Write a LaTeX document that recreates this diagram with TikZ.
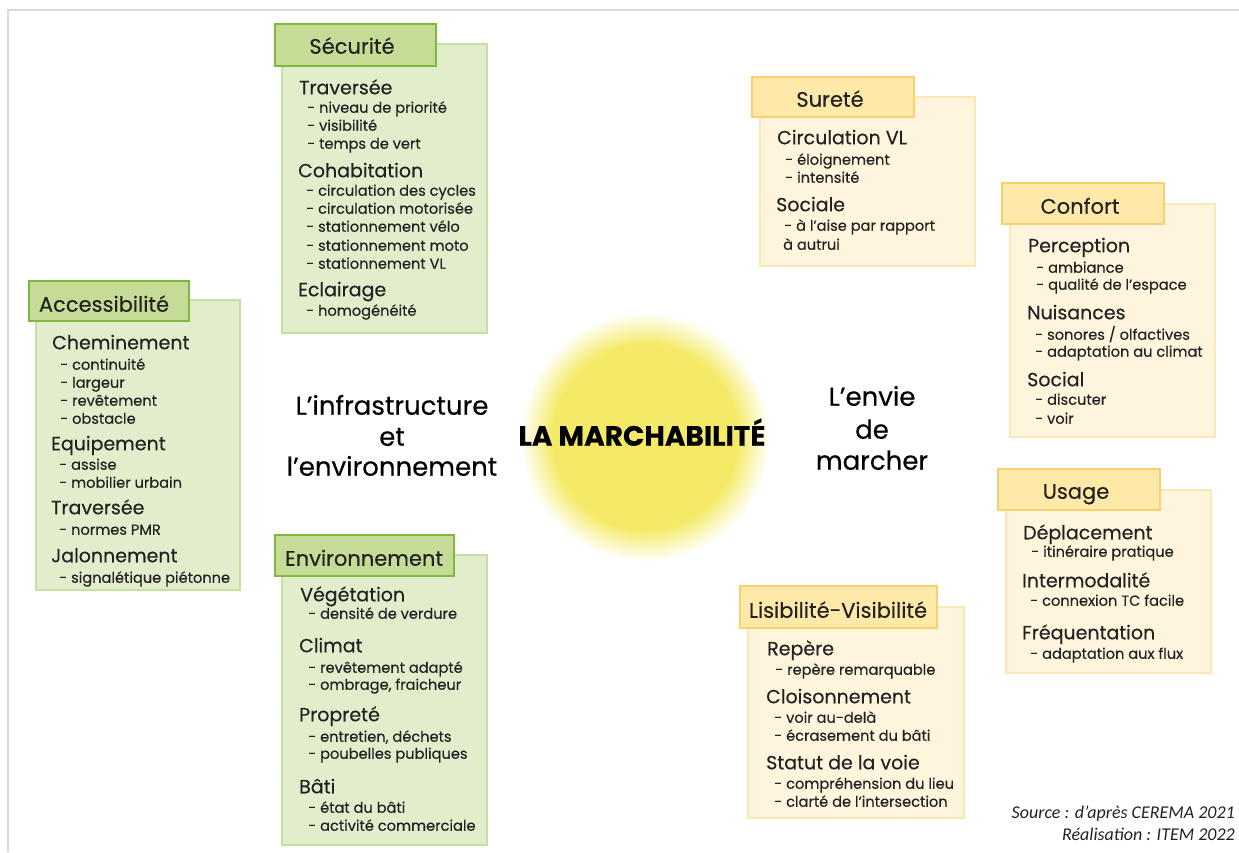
\documentclass[tikz,border=0pt]{standalone}
\usepackage{fontspec}
\setmainfont{Poppins}[FakeBold=0.35]
\newfontfamily\srcfont{Carlito}
\definecolor{txt}{HTML}{222222}
\definecolor{gHead}{HTML}{C5DC96}
\definecolor{gHeadLine}{HTML}{7DB93F}
\definecolor{gBody}{HTML}{E2EDCC}
\definecolor{gBodyLine}{HTML}{C6E0A2}
\definecolor{oHead}{HTML}{FEE9A8}
\definecolor{oHeadLine}{HTML}{F8D06E}
\definecolor{oBody}{HTML}{FFF5DC}
\definecolor{oBodyLine}{HTML}{FDE7B4}
\definecolor{glowc}{RGB}{244,234,104}
\definecolor{frame}{HTML}{DADADA}
\pgfdeclareradialshading{glow}{\pgfpoint{0bp}{0bp}}{color(0bp)=(glowc); color(18.5bp)=(glowc); color(25bp)=(white); color(50bp)=(white)}
\tikzset{
  gbody/.style={fill=gBody, draw=gBodyLine, line width=2pt},
  ghead/.style={fill=gHead, draw=gHeadLine, line width=2pt},
  obody/.style={fill=oBody, draw=oBodyLine, line width=2pt},
  ohead/.style={fill=oHead, draw=oHeadLine, line width=2pt},
  title/.style={inner sep=0pt, anchor=mid, yshift=-4pt, text=txt, font=\fontsize{21}{23}\selectfont},
  hd/.style={inner sep=0pt, anchor=mid west, yshift=-3.5pt, text=txt, font=\fontsize{19}{21}\selectfont},
  it/.style={inner sep=0pt, anchor=mid west, yshift=-3pt, text=txt, font=\fontsize{14.6}{16}\selectfont},
  big/.style={inner sep=0pt, anchor=mid, yshift=-6pt, text=black, font=\fontsize{26}{28}\selectfont},
  src/.style={inner sep=0pt, anchor=mid east, yshift=-5pt, text=txt, font=\srcfont\itshape\fontsize{18}{20}\selectfont}
}
\begin{document}
\begin{tikzpicture}[x=1pt,y=-1pt]
\useasboundingbox (0,0) rectangle (1239,852);
% frame
\draw[frame, line width=2pt] (8,852) -- (8,10) -- (1239,10);
% glow
\shade[shading=glow] (645,437) circle (125);
\node[inner sep=0pt, anchor=mid, yshift=-6pt, text=black, font=\bfseries\fontsize{28}{30}\selectfont] (center) at (642,437) {LA MARCHABILITÉ};
\node[big] (inf1) at (392,406) {L’infrastructure};
\node[big] (inf2) at (392,437) {et};
\node[big] (inf3) at (392,467) {l’environnement};
\node[big] (env1) at (872,397) {L’envie};
\node[big] (env2) at (872,430) {de};
\node[big] (env3) at (872,461) {marcher};

% ---------- Sécurité
\draw[gbody] (282,44) rectangle (487,333);
\draw[ghead] (275,24) rectangle (436,66);
\node[title] (secT) at (352,47) {Sécurité};
\node[hd] (sec1) at (299,88) {Traversée};
\node[it] (sec2) at (307,107) {- niveau de priorité};
\node[it] (sec3) at (307,125) {- visibilité};
\node[it] (sec4) at (307,143) {- temps de vert};
\node[hd] (sec5) at (298,171) {Cohabitation};
\node[it] (sec6) at (306,190) {- circulation des cycles};
\node[it] (sec7) at (306,208) {- circulation motorisée};
\node[it] (sec8) at (306,226) {- stationnement vélo};
\node[it] (sec9) at (306,245) {- stationnement moto};
\node[it] (sec10) at (306,263) {- stationnement VL};
\node[hd] (sec11) at (298,290) {Eclairage};
\node[it] (sec12) at (306,310) {- homogénéité};

% ---------- Accessibilité
\draw[gbody] (36,300) rectangle (240,590);
\draw[ghead] (29,281) rectangle (189,321);
\node[title] (accT) at (104,305) {Accessibilité};
\node[hd] (acc1) at (52,343) {Cheminement};
\node[it] (acc2) at (60,364) {- continuité};
\node[it] (acc3) at (60,382) {- largeur};
\node[it] (acc4) at (60,400) {- revêtement};
\node[it] (acc5) at (60,418) {- obstacle};
\node[hd] (acc6) at (51,444) {Equipement};
\node[it] (acc7) at (59,464) {- assise};
\node[it] (acc8) at (59,482) {- mobilier urbain};
\node[hd] (acc9) at (51,508) {Traversée};
\node[it] (acc10) at (59,529) {- normes PMR};
\node[hd] (acc11) at (51,556) {Jalonnement};
\node[it] (acc12) at (59,577) {- signalétique piétonne};

% ---------- Environnement
\draw[gbody] (282,555) rectangle (487,845);
\draw[ghead] (275,535) rectangle (454,576);
\node[title] (envT) at (364,559) {Environnement};
\node[hd] (en1) at (300,595) {Végétation};
\node[it] (en2) at (308,613) {- densité de verdure};
\node[hd] (en3) at (299,646) {Climat};
\node[it] (en4) at (308,667) {- revêtement adapté};
\node[it] (en5) at (308,684) {- ombrage, fraicheur};
\node[hd] (en6) at (299,715) {Propreté};
\node[it] (en7) at (308,736) {- entretien, déchets};
\node[it] (en8) at (308,753) {- poubelles publiques};
\node[hd] (en9) at (299,787) {Bâti};
\node[it] (en10) at (308,807) {- état du bâti};
\node[it] (en11) at (308,825) {- activité commerciale};

% ---------- Sureté
\draw[obody] (760,97) rectangle (975,266);
\draw[ohead] (752,77) rectangle (914,117);
\node[title] (surT) at (830,100) {Sureté};
\node[hd] (su1) at (777,138) {Circulation VL};
\node[it] (su2) at (785,159) {- éloignement};
\node[it] (su3) at (785,177) {- intensité};
\node[hd] (su4) at (776,205) {Sociale};
\node[it] (su5) at (784,225) {- à l’aise par rapport};
\node[it] (su6) at (783,244) {à autrui};

% ---------- Confort
\draw[obody] (1010,204) rectangle (1215,437);
\draw[ohead] (1002,183) rectangle (1164,224);
\node[title] (conT) at (1080,207) {Confort};
\node[hd] (co1) at (1028,246) {Perception};
\node[it] (co2) at (1036,267) {- ambiance};
\node[it] (co3) at (1036,284) {- qualité de l’espace};
\node[hd] (co4) at (1027,313) {Nuisances};
\node[it] (co5) at (1035,334) {- sonores / olfactives};
\node[it] (co6) at (1035,351) {- adaptation au climat};
\node[hd] (co7) at (1027,380) {Social};
\node[it] (co8) at (1035,399) {- discuter};
\node[it] (co9) at (1035,418) {- voir};

% ---------- Usage
\draw[obody] (1006,490) rectangle (1211,673);
\draw[ohead] (998,469) rectangle (1160,510);
\node[title] (usaT) at (1076,492) {Usage};
\node[hd] (us1) at (1023,533) {Déplacement};
\node[it] (us2) at (1031,551) {- itinéraire pratique};
\node[hd] (us3) at (1022,581) {Intermodalité};
\node[it] (us4) at (1030,600) {- connexion TC facile};
\node[hd] (us5) at (1022,633) {Fréquentation};
\node[it] (us6) at (1030,653) {- adaptation aux flux};

% ---------- Lisibilité-Visibilité
\draw[obody] (748,607) rectangle (964,818);
\draw[ohead] (740,586) rectangle (937,628);
\node[title] (lisT) at (838,611) {Lisibilité-Visibilité};
\node[hd] (li1) at (767,649) {Repère};
\node[it] (li2) at (775,669) {- repère remarquable};
\node[hd] (li3) at (766,697) {Cloisonnement};
\node[it] (li4) at (774,717) {- voir au-delà};
\node[it] (li5) at (774,735) {- écrasement du bâti};
\node[hd] (li6) at (766,763) {Statut de la voie};
\node[it] (li7) at (774,783) {- compréhension du lieu};
\node[it] (li8) at (774,801) {- clarté de l’intersection};

% ---------- source
\node[src] (src1) at (1235,811) {Source : d’après CEREMA 2021};
\node[src] (src2) at (1235,833) {Réalisation : ITEM 2022};
\end{tikzpicture}
\end{document}
